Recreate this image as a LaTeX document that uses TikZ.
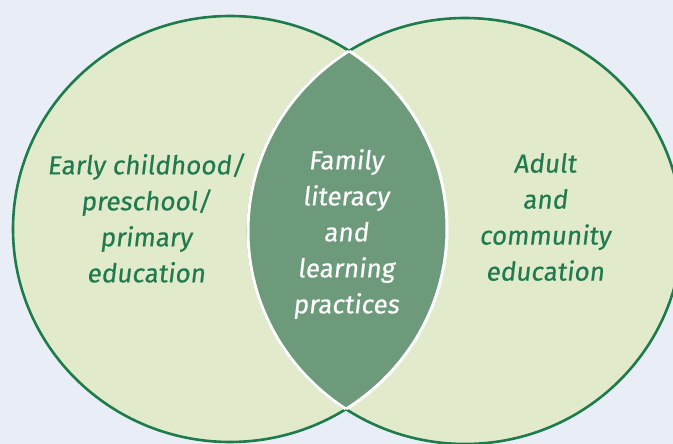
\documentclass[tikz,border=0pt]{standalone}
\usepackage{fontspec}
\setmainfont{Fira Sans}
\newfontfamily\handfont[FakeSlant=0.12,FakeBold=0.4]{Fira Sans}
\definecolor{bgc}{HTML}{E9EEF6}
\definecolor{circfill}{HTML}{E1EBCB}
\definecolor{circline}{HTML}{1E7B4C}
\definecolor{lensfill}{HTML}{6C9A7B}
\definecolor{txtgreen}{HTML}{217A4D}
\tikzset{
  circstyle/.style={fill=circfill, draw=circline, line width=2.6pt},
  lbl/.style={font=\handfont\fontsize{26}{36}\selectfont, align=center, text=txtgreen, inner sep=0pt},
  lenslbl/.style={lbl, text=white}
}
\begin{document}
\begin{tikzpicture}[x=1pt,y=-1pt]
\useasboundingbox (0,0) rectangle (673,444);
\fill[bgc] (0,0) rectangle (673,444);
\begin{scope}
\clip (0,0) rectangle (673,444);
\filldraw[circstyle] (230,229) ellipse [x radius=217pt, y radius=213pt];
\filldraw[circstyle] (465,231) ellipse [x radius=217pt, y radius=213pt];
\begin{scope}
\clip (230,229) ellipse [x radius=217pt, y radius=213pt];
\fill[lensfill] (465,231) ellipse [x radius=217pt, y radius=213pt];
\draw[white, line width=3pt] (465,231) ellipse [x radius=217pt, y radius=213pt];
\end{scope}
\begin{scope}
\clip (465,231) ellipse [x radius=217pt, y radius=213pt];
\draw[white, line width=3pt] (230,229) ellipse [x radius=217pt, y radius=213pt];
\end{scope}
\end{scope}
\node[lbl] (early) at (146,218) {Early childhood/\\preschool/\\primary\\education};
\node[lenslbl] (family) at (346,234) {Family\\literacy\\and\\learning\\practices};
\node[lbl] (adult) at (545,217) {Adult\\and\\community\\education};
\end{tikzpicture}
\end{document}
